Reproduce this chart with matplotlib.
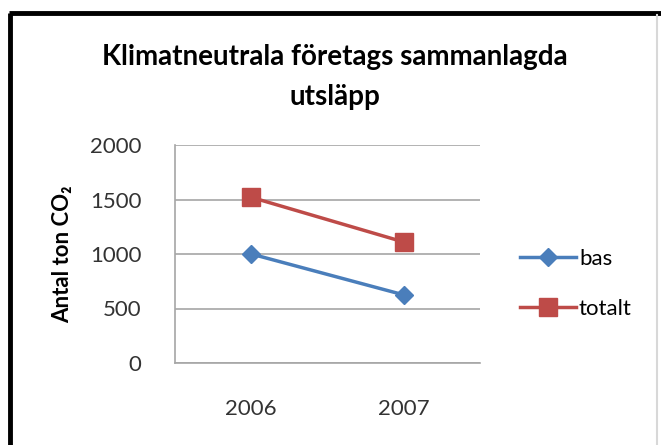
import matplotlib
matplotlib.use("Agg")
import matplotlib.pyplot as plt
from matplotlib.lines import Line2D

categories = ["2006", "2007"]
bas = [1000, 625]
totalt = [1520, 1110]
yticks = [0, 500, 1000, 1500, 2000]

W, H = 661, 445
plt.rcParams['font.family'] = ['Lato', 'DejaVu Sans']
fig = plt.figure(figsize=(W/100, H/100), dpi=100)

def fx(px): return px / W
def fy(py): return 1 - py / H

# outer border (left/top black, right faint grey)
fig.add_artist(Line2D([fx(10), fx(10)], [fy(13), fy(450)], color='black', lw=3.5, solid_capstyle='butt'))
fig.add_artist(Line2D([fx(8.5), fx(661)], [fy(13), fy(13)], color='black', lw=3.5, solid_capstyle='butt'))
fig.add_artist(Line2D([fx(657), fx(657)], [fy(15), fy(445)], color='#d8d8d8', lw=1.5))

ax = fig.add_axes([fx(175), fy(363), fx(480) - fx(175), fy(145) - fy(363)])
x = [0, 1]
ax.plot(x, bas, color='#4a7ebb', lw=2.5, marker='D', ms=9, label='bas')
ax.plot(x, totalt, color='#be4b48', lw=2.5, marker='s', ms=13, label='totalt')
ax.set_xlim(-0.5, 1.5)
ax.set_ylim(0, 2000)
ax.set_yticks(yticks)
ax.set_yticklabels([str(v) for v in yticks])
ax.set_xticks(x)
ax.set_xticklabels(categories)
ax.yaxis.grid(True, color='#a6a6a6', lw=1.2)
ax.set_axisbelow(True)
for s in ['top', 'right']:
    ax.spines[s].set_visible(False)
ax.spines['left'].set_color('#a6a6a6')
ax.spines['bottom'].set_color('#a6a6a6')
ax.spines['left'].set_linewidth(1.2)
ax.spines['bottom'].set_linewidth(1.2)
ax.tick_params(axis='both', length=0, labelsize=16, colors='#333333')
ax.tick_params(axis='y', pad=24)
ax.tick_params(axis='x', pad=26)
ax.set_ylabel('Antal ton CO₂', fontsize=16, fontweight='bold', labelpad=12)

fig.text(fx(335), fy(57), 'Klimatneutrala företags sammanlagda', ha='center', va='center',
         fontsize=20, fontweight='bold')
fig.text(fx(335), fy(97), 'utsläpp', ha='center', va='center', fontsize=20, fontweight='bold')

ax.legend(loc='center left', bbox_to_anchor=(fx(520), fy(284)), bbox_transform=fig.transFigure,
          frameon=False, fontsize=16, handlelength=2.5, handletextpad=0.15, labelspacing=1.35,
          borderaxespad=0, borderpad=0)

fig.savefig('out.png', dpi=100)
